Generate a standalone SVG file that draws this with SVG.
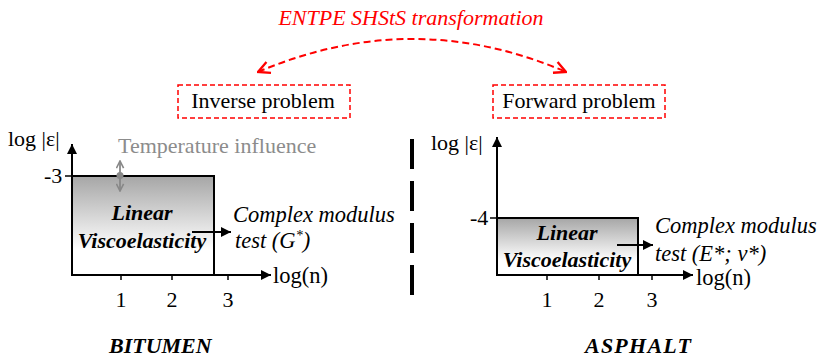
<svg xmlns="http://www.w3.org/2000/svg" width="818" height="358" viewBox="0 0 818 358">
<style>
text{font-family:"Liberation Serif","Times New Roman",serif;font-size:22px;fill:#000}
.it{font-style:italic}
.bi{font-style:italic;font-weight:bold}
.red{fill:#f00}
.gray{fill:#8c8c8c}
.ax{stroke:#000;stroke-width:2;fill:none}
.tick{stroke:#000;stroke-width:1.5}
.box{stroke:#000;stroke-width:2;fill:url(#g)}
.rbox{fill:#fff;stroke:#f00;stroke-width:1.5;stroke-dasharray:5 3}
.mid{text-anchor:middle}
.cm{font-size:22.5px}
</style>
<defs>
<linearGradient id="g" x1="0" y1="0" x2="0" y2="1">
<stop offset="0" stop-color="#a6a6a6"/>
<stop offset="0.75" stop-color="#ffffff"/>
<stop offset="1" stop-color="#ffffff"/>
</linearGradient>
<marker id="ah" viewBox="0 0 10 10" refX="10" refY="5" markerWidth="10" markerHeight="10" markerUnits="userSpaceOnUse" orient="auto">
<path d="M0,0 L10,5 L0,10 z" fill="#000"/>
</marker>
<marker id="rh" viewBox="0 0 12 12" refX="11" refY="6" markerWidth="14" markerHeight="14" markerUnits="userSpaceOnUse" orient="auto-start-reverse">
<path d="M1,1 L11,6 L1,11" fill="none" stroke="#f00" stroke-width="2"/>
</marker>
<marker id="gh" viewBox="0 0 10 10" refX="9" refY="5" markerWidth="9" markerHeight="9" markerUnits="userSpaceOnUse" orient="auto-start-reverse">
<path d="M1,1 L9,5 L1,9" fill="none" stroke="#888" stroke-width="1.8"/>
</marker>
</defs>

<text class="it red mid" x="411" y="25" font-size="24">ENTPE SHStS transformation</text>

<g id="connectors">
<path d="M258,72 Q413,6 566,72" fill="none" stroke="#f00" stroke-width="2" stroke-dasharray="7 4" marker-start="url(#rh)" marker-end="url(#rh)"/>
<line x1="412" y1="139" x2="412" y2="296" stroke="#000" stroke-width="4" stroke-dasharray="30 12"/>
</g>

<g id="inverse">
<rect class="rbox" x="178" y="85" width="172" height="33"/>
<text x="263" y="108" class="mid">Inverse problem</text>
</g>
<g id="forward">
<rect class="rbox" x="493" y="85" width="172" height="33"/>
<text x="579" y="108" class="mid">Forward problem</text>
</g>

<g id="bitumen">
<rect class="box" x="72" y="176" width="142" height="99"/>
<line class="ax" x1="72" y1="276" x2="72" y2="144" marker-end="url(#ah)"/>
<line class="ax" x1="71" y1="275" x2="271" y2="275" marker-end="url(#ah)"/>
<line class="tick" x1="65" y1="176" x2="72" y2="176"/>
<line class="tick" x1="121" y1="275" x2="121" y2="280"/>
<line class="tick" x1="172" y1="275" x2="172" y2="280"/>
<line class="tick" x1="228" y1="275" x2="228" y2="280"/>
<text x="8" y="146">log |ε|</text>
<text x="44" y="183">-3</text>
<text class="mid" x="121" y="307">1</text>
<text class="mid" x="172" y="307">2</text>
<text class="mid" x="228" y="307">3</text>
<text class="cm" x="273" y="283">log(n)</text>
<text class="gray" x="118" y="153">Temperature influence</text>
<line x1="120" y1="161" x2="120" y2="191" stroke="#888" stroke-width="1.8" marker-start="url(#gh)" marker-end="url(#gh)"/>
<circle cx="120" cy="175.5" r="3.5" fill="#888"/>
<text class="bi mid" x="142" y="220">Linear</text>
<text class="bi mid" x="142" y="248">Viscoelasticity</text>
<line x1="192" y1="232" x2="231" y2="232" stroke="#000" stroke-width="2" marker-end="url(#ah)"/>
<text class="it cm" x="233" y="222">Complex modulus</text>
<text class="it cm" x="235" y="248">test (G<tspan font-size="14" dy="-8">*</tspan><tspan dy="8">)</tspan></text>
<text class="bi" x="109" y="353">BITUMEN</text>
</g>

<g id="asphalt">
<rect class="box" x="497" y="218" width="141" height="57"/>
<line class="ax" x1="497" y1="276" x2="497" y2="137" marker-end="url(#ah)"/>
<line class="ax" x1="496" y1="275" x2="693" y2="275" marker-end="url(#ah)"/>
<line class="tick" x1="490" y1="218" x2="497" y2="218"/>
<line class="tick" x1="547" y1="275" x2="547" y2="280"/>
<line class="tick" x1="599" y1="275" x2="599" y2="280"/>
<line class="tick" x1="652" y1="275" x2="652" y2="280"/>
<text x="431" y="150">log |ε|</text>
<text x="470" y="225">-4</text>
<text class="mid" x="547" y="307">1</text>
<text class="mid" x="599" y="307">2</text>
<text class="mid" x="652" y="307">3</text>
<text class="cm" x="696" y="285">log(n)</text>
<text class="bi mid" x="567" y="240">Linear</text>
<text class="bi mid" x="567" y="267">Viscoelasticity</text>
<line x1="617" y1="245" x2="653" y2="245" stroke="#000" stroke-width="2" marker-end="url(#ah)"/>
<text class="it cm" x="655" y="233">Complex modulus</text>
<text class="it cm" x="655" y="261">test (E*; ν*)</text>
<text class="bi" x="585" y="353" textLength="106" lengthAdjust="spacing">ASPHALT</text>
</g>
</svg>
